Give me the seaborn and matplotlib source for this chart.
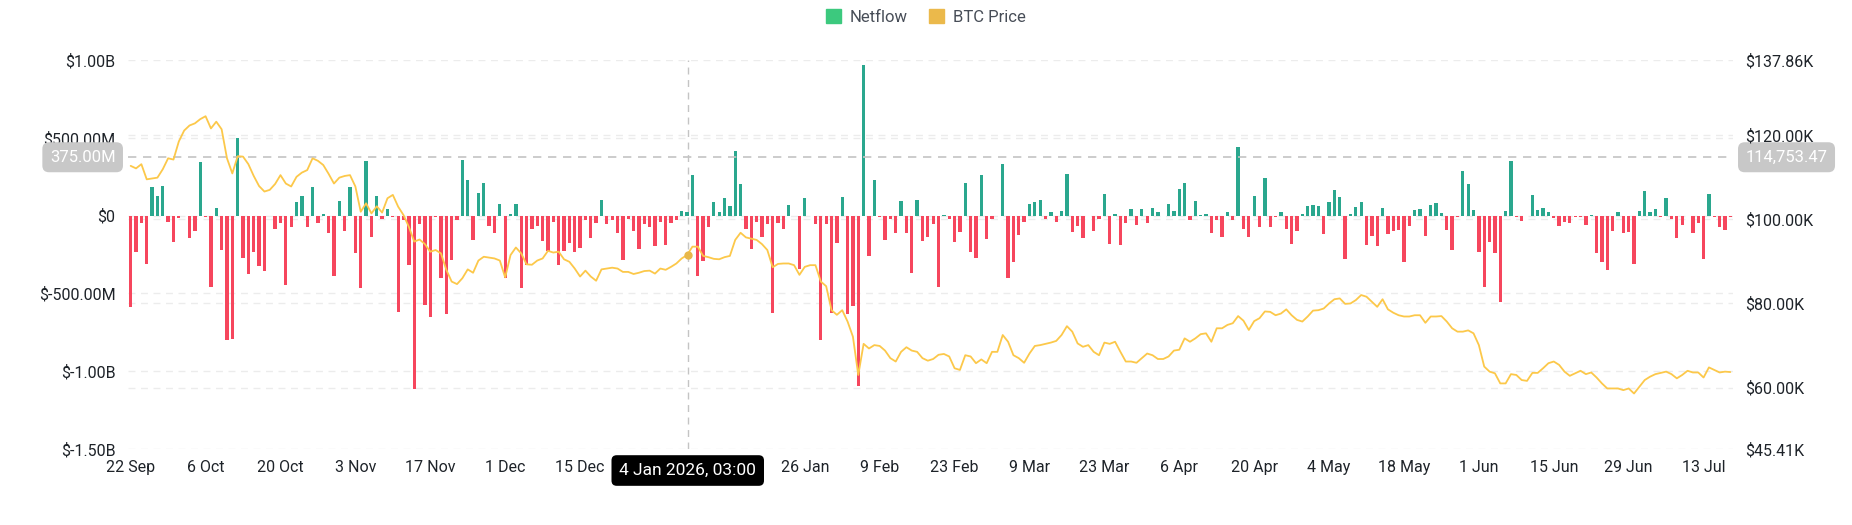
import numpy as np
import pandas as pd
import seaborn as sns
import matplotlib.pyplot as plt
import matplotlib.transforms as mtransforms
from matplotlib.patches import Patch

# daily netflow, in millions of USD, from 22 Sep 2025
netflow = [
    -587, -232, -45, -314, 187, 127, 191, -39, -168, -13,
    0, -146, -97, 346, -11, -458, 52, -221, -802, -791,
    497, -275, -378, -234, -323, -357, 0, -88, -45, -449,
    -71, 88, 123, -71, 181, -47, 11, -114, -385, 95,
    -99, 185, -243, -465, 353, -138, 127, -24, 45, -6,
    -622, -28, -320, -1114, -54, -572, -652, -6, -398, -630,
    -288, -28, 359, 228, -155, 148, 209, -65, -114, 73,
    -400, 9, 75, -467, -320, -84, -65, -166, -226, -41,
    -320, -226, -178, -232, -209, -26, -146, -47, 101, -56,
    -28, -110, -284, -24, -99, -213, -52, -71, -196, -43,
    -187, -45, -30, 30, 22, 258, -391, -292, -75, 88,
    26, 112, 62, 417, 202, -86, -215, -43, -135, -52,
    -628, -45, -88, 69, -4, -340, 112, -4, -56, -802,
    -54, -626, -176, 120, -630, -578, -1092, 968, -262, 230,
    -6, -157, -24, -114, 97, -114, -368, 101, -166, -140,
    -56, -458, 4, -24, -170, -105, 209, -234, -275, 260,
    -153, -19, -4, 333, -402, -301, -123, -43, 73, 90,
    99, -24, 22, -39, 30, 267, -103, -65, -144, -4,
    -101, -22, 142, -183, 9, -191, -49, 41, -60, 41,
    -47, 52, 22, -4, 75, 30, 170, 211, -28, 92,
    6, 9, -110, -28, -140, 22, -26, 441, -86, -135,
    125, -71, 241, -75, -11, 26, -88, -185, -97, 11,
    60, 65, 60, -118, 90, 166, 120, -280, 13, 54,
    90, -191, -129, -196, 49, -118, -101, -90, -299, -67,
    37, 43, -133, 65, 80, 17, -95, -221, -11, 286,
    200, 37, -232, -458, -168, -243, -555, 28, 353, -6,
    -32, -4, 131, 39, 47, 24, -13, -69, -41, -45,
    -6, -6, -58, 4, -239, -299, -348, -97, 26, -110,
    -103, -308, 32, 159, 22, 41, -6, 114, -24, -146,
    -58, -4, -114, -45, -280, 138, -11, -75, -90, -6,
]

# BTC price, in thousands of USD, same days
btc_price = [
    112.7, 112.1, 113.1, 109.5, 109.7, 109.9, 111.9, 114.5, 114.2, 118.5,
    121.1, 122.3, 122.8, 123.8, 124.5, 121.6, 123.2, 121.4, 114.5, 110.9,
    115.0, 114.9, 113.1, 110.3, 107.9, 106.6, 107.0, 108.4, 110.5, 108.5,
    107.8, 110.1, 111.1, 111.7, 114.5, 113.9, 112.9, 110.8, 108.5, 109.9,
    110.3, 110.5, 107.8, 101.8, 103.8, 101.4, 103.1, 101.6, 105.0, 105.8,
    103.0, 101.0, 98.2, 94.7, 95.2, 94.1, 92.3, 92.7, 91.9, 88.0,
    85.2, 84.6, 86.0, 88.1, 87.3, 90.2, 91.1, 90.9, 90.7, 90.2,
    86.2, 91.5, 93.3, 91.9, 89.3, 89.2, 90.2, 90.7, 92.5, 92.1,
    92.3, 90.5, 89.9, 88.3, 86.4, 87.8, 86.4, 85.4, 88.1, 88.3,
    88.5, 88.3, 87.5, 87.5, 87.0, 87.3, 87.7, 87.8, 87.1, 88.3,
    88.0, 88.7, 89.5, 90.7, 91.5, 93.5, 93.5, 91.3, 91.0, 90.6,
    90.5, 91.0, 91.3, 95.1, 96.8, 95.7, 95.4, 95.1, 94.1, 92.7,
    88.6, 89.4, 89.5, 89.5, 89.1, 86.8, 88.7, 89.1, 89.1, 85.2,
    84.1, 78.4, 77.3, 78.4, 75.7, 72.1, 63.0, 70.4, 69.3, 70.1,
    69.9, 68.8, 67.0, 66.2, 68.5, 69.6, 68.8, 68.5, 67.0, 66.4,
    66.8, 67.8, 68.0, 67.4, 64.6, 64.2, 67.7, 67.4, 65.8, 66.7,
    65.8, 68.5, 68.5, 72.5, 70.9, 67.7, 67.0, 65.9, 68.1, 69.9,
    70.1, 70.4, 70.7, 71.1, 72.5, 74.6, 73.3, 70.5, 69.7, 70.1,
    68.5, 67.7, 70.7, 70.4, 70.9, 68.5, 66.2, 66.2, 65.9, 67.0,
    68.1, 67.7, 66.8, 66.8, 67.4, 68.8, 69.0, 71.7, 70.9, 71.7,
    72.7, 72.9, 70.9, 74.1, 74.1, 74.9, 75.3, 77.0, 75.9, 73.7,
    75.8, 76.5, 78.1, 78.0, 77.2, 77.6, 78.6, 77.2, 76.1, 75.7,
    76.9, 78.3, 78.4, 78.8, 80.0, 81.0, 81.2, 79.9, 80.0, 80.8,
    82.0, 81.6, 80.4, 79.2, 81.0, 78.6, 77.8, 77.2, 76.9, 76.9,
    77.2, 77.2, 75.4, 76.9, 76.9, 77.0, 75.7, 74.1, 73.3, 73.3,
    73.6, 72.9, 70.1, 65.0, 63.8, 63.4, 61.0, 61.0, 63.2, 63.0,
    61.8, 61.6, 63.5, 63.5, 64.6, 65.8, 66.2, 65.4, 63.8, 62.8,
    63.4, 64.0, 63.2, 63.6, 62.4, 61.0, 59.8, 59.8, 59.8, 59.4,
    59.8, 58.6, 60.2, 61.8, 62.6, 63.2, 63.5, 63.8, 63.2, 62.2,
    63.0, 64.0, 63.6, 63.6, 62.4, 64.8, 64.2, 63.6, 63.8, 63.7,
]

dates = pd.date_range('2025-09-22', periods=len(netflow), freq='D')

left_ticks = [-1.5e9, -1e9, -5e8, 0, 5e8, 1e9]
left_labels = ['$-1.50B', '$-1.00B', '$-500.00M', '$0', '$500.00M', '$1.00B']
right_ticks = [45410, 60000, 80000, 100000, 120000, 137860]
right_labels = ['$45.41K', '$60.00K', '$80.00K', '$100.00K', '$120.00K', '$137.86K']

GREEN = '#2aa78e'
RED = '#f6465d'
LINE = '#fcc84a'
TXT = '#1e2329'

df = pd.DataFrame({
    'day': np.arange(len(netflow)),
    'netflow': np.array(netflow) * 1e6,
    'price': np.array(btc_price) * 1e3,
})
df['side'] = np.where(df['netflow'] >= 0, 'in', 'out')

sns.set_theme(style='white')
plt.rcParams['font.family'] = ['Roboto', 'DejaVu Sans']

fig = plt.figure(figsize=(18.52, 5.25), dpi=100)
ax = fig.add_axes([128 / 1852, 76 / 525, 1605 / 1852, 389 / 525])

sns.barplot(data=df, x='day', y='netflow', hue='side', palette={'in': GREEN, 'out': RED},
            native_scale=True, dodge=False, width=0.62, saturation=1, legend=False,
            linewidth=0, ax=ax)

lo, hi = left_ticks[0], left_ticks[-1]
ax.set_ylim(lo, hi)
ax.set_xlim(-0.5, len(netflow) - 0.5)

# gridlines for both axes, drawn behind bars
for t in left_ticks:
    ax.axhline(t, color='#ececec', lw=1, ls=(0, (5, 4)), zorder=0)
for t in right_ticks[1:-1]:
    y = lo + (t - right_ticks[0]) / (right_ticks[-1] - right_ticks[0]) * (hi - lo)
    ax.axhline(y, color='#ececec', lw=1, ls=(0, (5, 4)), zorder=0)

# crosshair at 4 Jan 2026, 03:00
cx = 104 + 3 / 24
cy = 375e6

ax.set_yticks(left_ticks, left_labels)
# the crosshair label sits over the 29 Dec tick, so that one is left blank
tick_days = [d for d in range(0, len(netflow), 14) if abs(d - cx) > 12]
ax.set_xticks(tick_days, [f'{dates[d].day} {dates[d]:%b}' for d in tick_days])
ax.tick_params(axis='both', length=0, labelsize=11.5, colors=TXT)
ax.tick_params(axis='y', pad=9)
ax.tick_params(axis='x', pad=8)
ax.set_xlabel('')
ax.set_ylabel('')
sns.despine(ax=ax, left=True, bottom=True)

ax2 = ax.twinx()
sns.lineplot(data=df, x='day', y='price', color=LINE, lw=1.3, ax=ax2)
ax2.set_ylim(right_ticks[0], right_ticks[-1])
ax2.set_yticks(right_ticks, right_labels)
ax2.tick_params(axis='y', length=0, labelsize=11.5, colors=TXT, pad=9)
ax2.set_ylabel('')
ax2.grid(False)
for s in ax2.spines.values():
    s.set_visible(False)

ax.axvline(cx, color='#c4c4c4', lw=1, ls=(0, (5, 4)), zorder=5)
ax.axhline(cy, color='#c4c4c4', lw=1.2, ls=(0, (5, 4)), zorder=5)
ax2.plot([cx], [btc_price[104] * 1e3], marker='o', ms=5, color='#e8b84a', zorder=6)

blend = mtransforms.blended_transform_factory(ax.transAxes, ax.transData)
box = dict(boxstyle='round,pad=0.45,rounding_size=0.4', fc='#c8c8c8', ec='none')
ax.text(-0.0078, cy, '375.00M', transform=blend, ha='right', va='center',
        color='white', fontsize=12, bbox=box, clip_on=False, zorder=10)
ax.text(1.0078, cy, '114,753.47', transform=blend, ha='left', va='center',
        color='white', fontsize=12, bbox=box, clip_on=False, zorder=10)

blend_x = mtransforms.blended_transform_factory(ax.transData, ax.transAxes)
ax2.text(cx, -0.0553, '4 Jan 2026, 03:00', transform=blend_x, ha='center', va='center',
         color='white', fontsize=12.5,
         bbox=dict(boxstyle='round,pad=0.45,rounding_size=0.3', fc='black', ec='none'),
         clip_on=False, zorder=10)

handles = [Patch(color='#3cc97e', label='Netflow'), Patch(color='#ebb94b', label='BTC Price')]
fig.legend(handles=handles, loc='center', bbox_to_anchor=(0.5, 0.967), ncol=2, frameon=False,
           fontsize=12, handlelength=0.9, handleheight=0.9, handletextpad=0.5,
           columnspacing=1.3, labelcolor='#474d57')

fig.savefig('out.png', dpi=100)
